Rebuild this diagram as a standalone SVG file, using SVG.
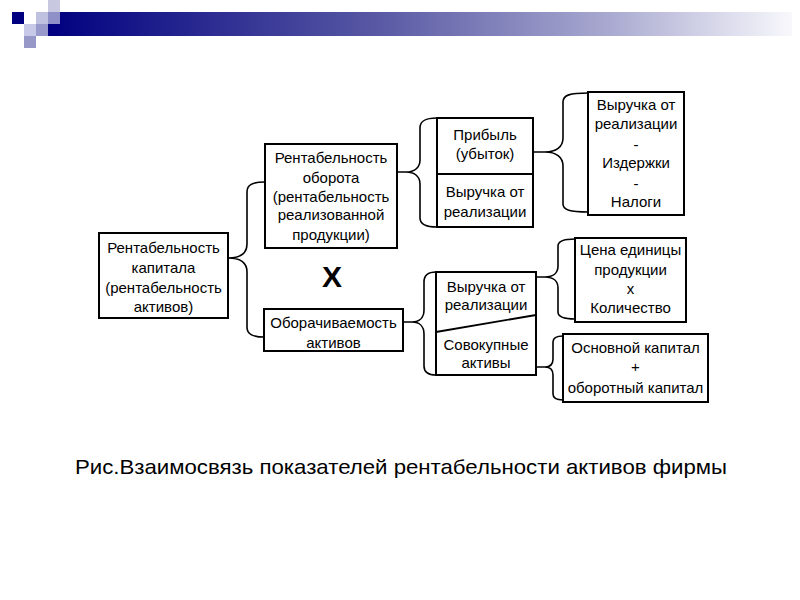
<svg xmlns="http://www.w3.org/2000/svg" width="800" height="600" viewBox="0 0 800 600">
<defs>
<linearGradient id="bar" x1="0" y1="0" x2="1" y2="0">
<stop offset="0" stop-color="#000080"/>
<stop offset="0.45" stop-color="#5a5aa5"/>
<stop offset="0.75" stop-color="#a8a8d0"/>
<stop offset="1" stop-color="#f8f8fc"/>
</linearGradient>
<style>
.box{fill:#fff;stroke:#000;stroke-width:2}
.ln{fill:none;stroke:#000;stroke-width:1.8}
.br{fill:none;stroke:#000;stroke-width:1.6}
text{font-family:"Liberation Sans",Arial,sans-serif;font-size:15px;fill:#000;text-anchor:middle}
.cap{font-size:21px;text-anchor:start}
.x{font-size:30px;font-weight:bold}
</style>
</defs>
<rect width="800" height="600" fill="#fff"/>
<g id="header">
<rect x="48" y="12" width="744" height="24" fill="url(#bar)"/>
<rect x="12" y="12" width="12" height="12" fill="#000080"/>
<rect x="48" y="0" width="12" height="12" fill="#c8c8e0"/>
<rect x="36" y="12" width="12" height="12" fill="#c0c0e0"/>
<rect x="48" y="12" width="12" height="12" fill="#9090c8"/>
<rect x="24" y="24" width="12" height="12" fill="#c8c8e8"/>
<rect x="36" y="24" width="12" height="12" fill="#9999cc"/>
<rect x="24" y="36" width="12" height="12" fill="#9898c8"/>
</g>
<g id="connectors">
<path class="br" d="M228,258 C240,258 247,254 247,244 L247,192 C247,185 252,182 265,182 M228,258 C240,258 247,262 247,272 L247,327 C247,334 252,337 265,337"/>
<path class="br" d="M397,172 L406,172 C414,172 420,168 420,160 L420,128 C420,121 425,118 437,118 M406,172 C414,172 420,176 420,184 L420,218 C420,224 425,227 437,227"/>
<path class="br" d="M403,322 L412,322 C419,322 424,318 424,310 L424,282 C424,275 428,272 436,272 M412,322 C419,322 424,326 424,334 L424,366 C424,372 428,375 436,375"/>
<path class="br" d="M533,152 L545,152 C556,152 563,147 563,138 L563,102 C563,95 570,93 588,93 M545,152 C556,152 563,157 563,166 L563,204 C563,210 570,212 588,212"/>
<path class="br" d="M536,277 L545,277 C553,277 558,273 558,266 L558,246 C558,241 563,239 575,239 M545,277 C553,277 558,281 558,288 L558,312 C558,317 563,319 575,319"/>
<path class="br" d="M536,367 L545,367 C550,367 553,364 553,359 L553,342 C553,338 556,336 563,336 M545,367 C550,367 553,370 553,375 L553,394 C553,398 556,400 563,400"/>
</g>
<g id="n1">
<rect class="box" x="99" y="233" width="129" height="85"/>
<text x="163.5" y="253">Рентабельность</text>
<text x="163.5" y="273">капитала</text>
<text x="163.5" y="293">(рентабельность</text>
<text x="163.5" y="312">активов)</text>
</g>
<g id="n2">
<rect class="box" x="265" y="144" width="132" height="104"/>
<text x="331" y="163">Рентабельность</text>
<text x="331" y="183">оборота</text>
<text x="331" y="202">(рентабельность</text>
<text x="331" y="220">реализованной</text>
<text x="331" y="240">продукции)</text>
</g>
<g id="n3">
<rect class="box" x="437" y="118" width="96" height="109"/>
<line class="ln" x1="437" y1="174" x2="533" y2="174"/>
<text x="485" y="140">Прибыль</text>
<text x="485" y="159">(убыток)</text>
<text x="485" y="197">Выручка от</text>
<text x="485" y="217">реализации</text>
</g>
<g id="times">
<text class="x" x="332" y="287">X</text>
</g>
<g id="n4">
<rect class="box" x="264" y="309" width="139" height="42"/>
<text x="333.5" y="328">Оборачиваемость</text>
<text x="333.5" y="348">активов</text>
</g>
<g id="n5">
<rect class="box" x="436" y="272" width="100" height="103"/>
<line class="ln" x1="436" y1="332" x2="536" y2="315"/>
<text x="486" y="292">Выручка от</text>
<text x="486" y="310">реализации</text>
<text x="486" y="350">Совокупные</text>
<text x="486" y="368">активы</text>
</g>
<g id="n6">
<rect class="box" x="588" y="92" width="96" height="123"/>
<text x="636" y="110">Выручка от</text>
<text x="636" y="129">реализации</text>
<text x="636" y="150">-</text>
<text x="636" y="168">Издержки</text>
<text x="636" y="189">-</text>
<text x="636" y="207">Налоги</text>
</g>
<g id="n7">
<rect class="box" x="575" y="238" width="111" height="84"/>
<text x="630.5" y="255">Цена единицы</text>
<text x="630.5" y="275">продукции</text>
<text x="630.5" y="294">x</text>
<text x="630.5" y="313">Количество</text>
</g>
<g id="n8">
<rect class="box" x="563" y="334" width="145" height="68"/>
<text x="635.5" y="353">Основной капитал</text>
<text x="635.5" y="372">+</text>
<text x="635.5" y="393">оборотный капитал</text>
</g>
<g id="caption">
<text class="cap" x="75" y="474" textLength="652" lengthAdjust="spacingAndGlyphs">Рис.Взаимосвязь показателей рентабельности активов фирмы</text>
</g>
</svg>
